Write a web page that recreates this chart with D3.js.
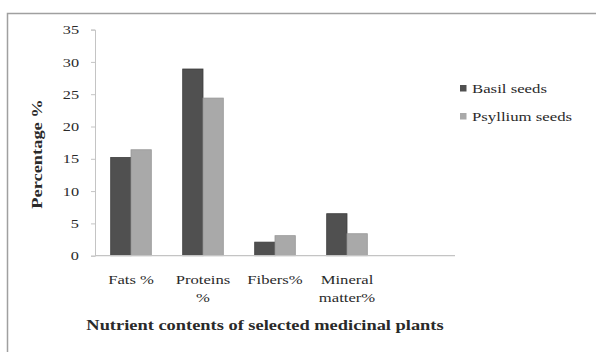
<!DOCTYPE html>
<html><head><meta charset="utf-8">
<script src="https://cdn.jsdelivr.net/npm/d3@7"></script>
<style>body{margin:0;background:#fff}svg{display:block}text{font-family:"Liberation Serif","Times New Roman",serif;fill:#2a2a2a}</style>
</head><body><svg id="c" width="596" height="352"></svg>
<script>
const categories = ["Fats %", "Proteins\n%", "Fibers%", "Mineral\nmatter%", ""];
const seriesNames = ["Basil seeds", "Psyllium seeds"];
const basil = [15.2, 28.9, 2.1, 6.5, null];
const psyllium = [16.4, 24.4, 3.1, 3.4, null];
const yTicks = [0, 5, 10, 15, 20, 25, 30, 35];
const colors = ["#505050", "#a9a9a9"];

const svg = d3.select("#c");
const W = 596, H = 352;
const m = {l: 95, r: 141, t: 29.6, b: 96.3};
const x = d3.scaleBand().domain(d3.range(categories.length)).range([m.l, W - m.r]);
const y = d3.scaleLinear().domain([0, 35]).range([H - m.b, m.t]);

function stretch(sel, sx) {
  sel.each(function() {
    const t = d3.select(this);
    const ax = +t.attr("x") || 0, ay = +t.attr("y") || 0;
    t.attr("transform", `translate(${ax},${ay}) scale(${sx},1) translate(${-ax},${-ay})`);
  });
}

// frame
svg.append("rect").attr("x", 7.5).attr("y", 13.5).attr("width", 600).attr("height", 400)
  .attr("fill", "none").attr("stroke", "#a0a0a0").attr("stroke-width", 1.5);

// y axis
const ya = svg.append("g").attr("transform", `translate(${m.l},0)`)
  .call(d3.axisLeft(y).tickValues(yTicks).tickSize(4).tickPadding(12));
ya.attr("font-family", null);
ya.select(".domain").attr("stroke", "#c4c4c4");
ya.selectAll(".tick line").attr("stroke", "#c4c4c4");
ya.selectAll("text").style("font-size", "13px").attr("fill", "#2a2a2a").attr("y", 0);
stretch(ya.selectAll("text"), 1.25);

// bars
const data = [basil, psyllium];
const bw = 20.3;
const inner = d3.scaleBand().domain([0, 1]).range([0, bw * 2]);
data.forEach((vals, si) => {
  svg.append("g").selectAll("rect").data(vals.map((v, i) => ({v, i})).filter(d => d.v != null))
    .join("rect")
    .attr("x", d => x(d.i) + (x.bandwidth() - bw * 2) / 2 + inner(si))
    .attr("y", d => y(d.v))
    .attr("width", inner.bandwidth())
    .attr("height", d => y(0) - y(d.v))
    .attr("fill", colors[si])
    .attr("stroke", si === 0 ? "#3c3c3c" : "#969696").attr("stroke-width", 0.8);
});

// x axis line
svg.append("line").attr("x1", m.l).attr("x2", W - m.r).attr("y1", y(0)).attr("y2", y(0))
  .attr("stroke", "#c4c4c4").attr("stroke-width", 1.2);

// category labels
categories.forEach((c, i) => {
  const cx = x(i) + x.bandwidth() / 2;
  c.split("\n").forEach((ln, k) => {
    const t = svg.append("text").attr("text-anchor", "middle").style("font-size", "13px")
      .attr("x", cx).attr("y", 284 + k * 18).text(ln);
    stretch(t, 1.28);
  });
});

// axis titles
const xt = svg.append("text").attr("x", 265).attr("y", 330).attr("text-anchor", "middle")
  .style("font-size", "14.5px").style("font-weight", "bold").attr("fill", "#1e1e1e")
  .text("Nutrient contents of selected medicinal plants");
stretch(xt, 1.27);
svg.append("text").attr("transform", "translate(42,154) rotate(-90) scale(1.27,1)").attr("text-anchor", "middle")
  .style("font-size", "14.5px").style("font-weight", "bold").attr("fill", "#1e1e1e")
  .text("Percentage %");

// legend
seriesNames.forEach((s, i) => {
  const ly = 89 + i * 28;
  svg.append("rect").attr("x", 460).attr("y", ly - 4).attr("width", 6.5).attr("height", 6.5).attr("fill", colors[i]);
  const t = svg.append("text").attr("x", 472).attr("y", ly + 4).style("font-size", "13px").text(s);
  stretch(t, 1.29);
});
</script></body></html>
